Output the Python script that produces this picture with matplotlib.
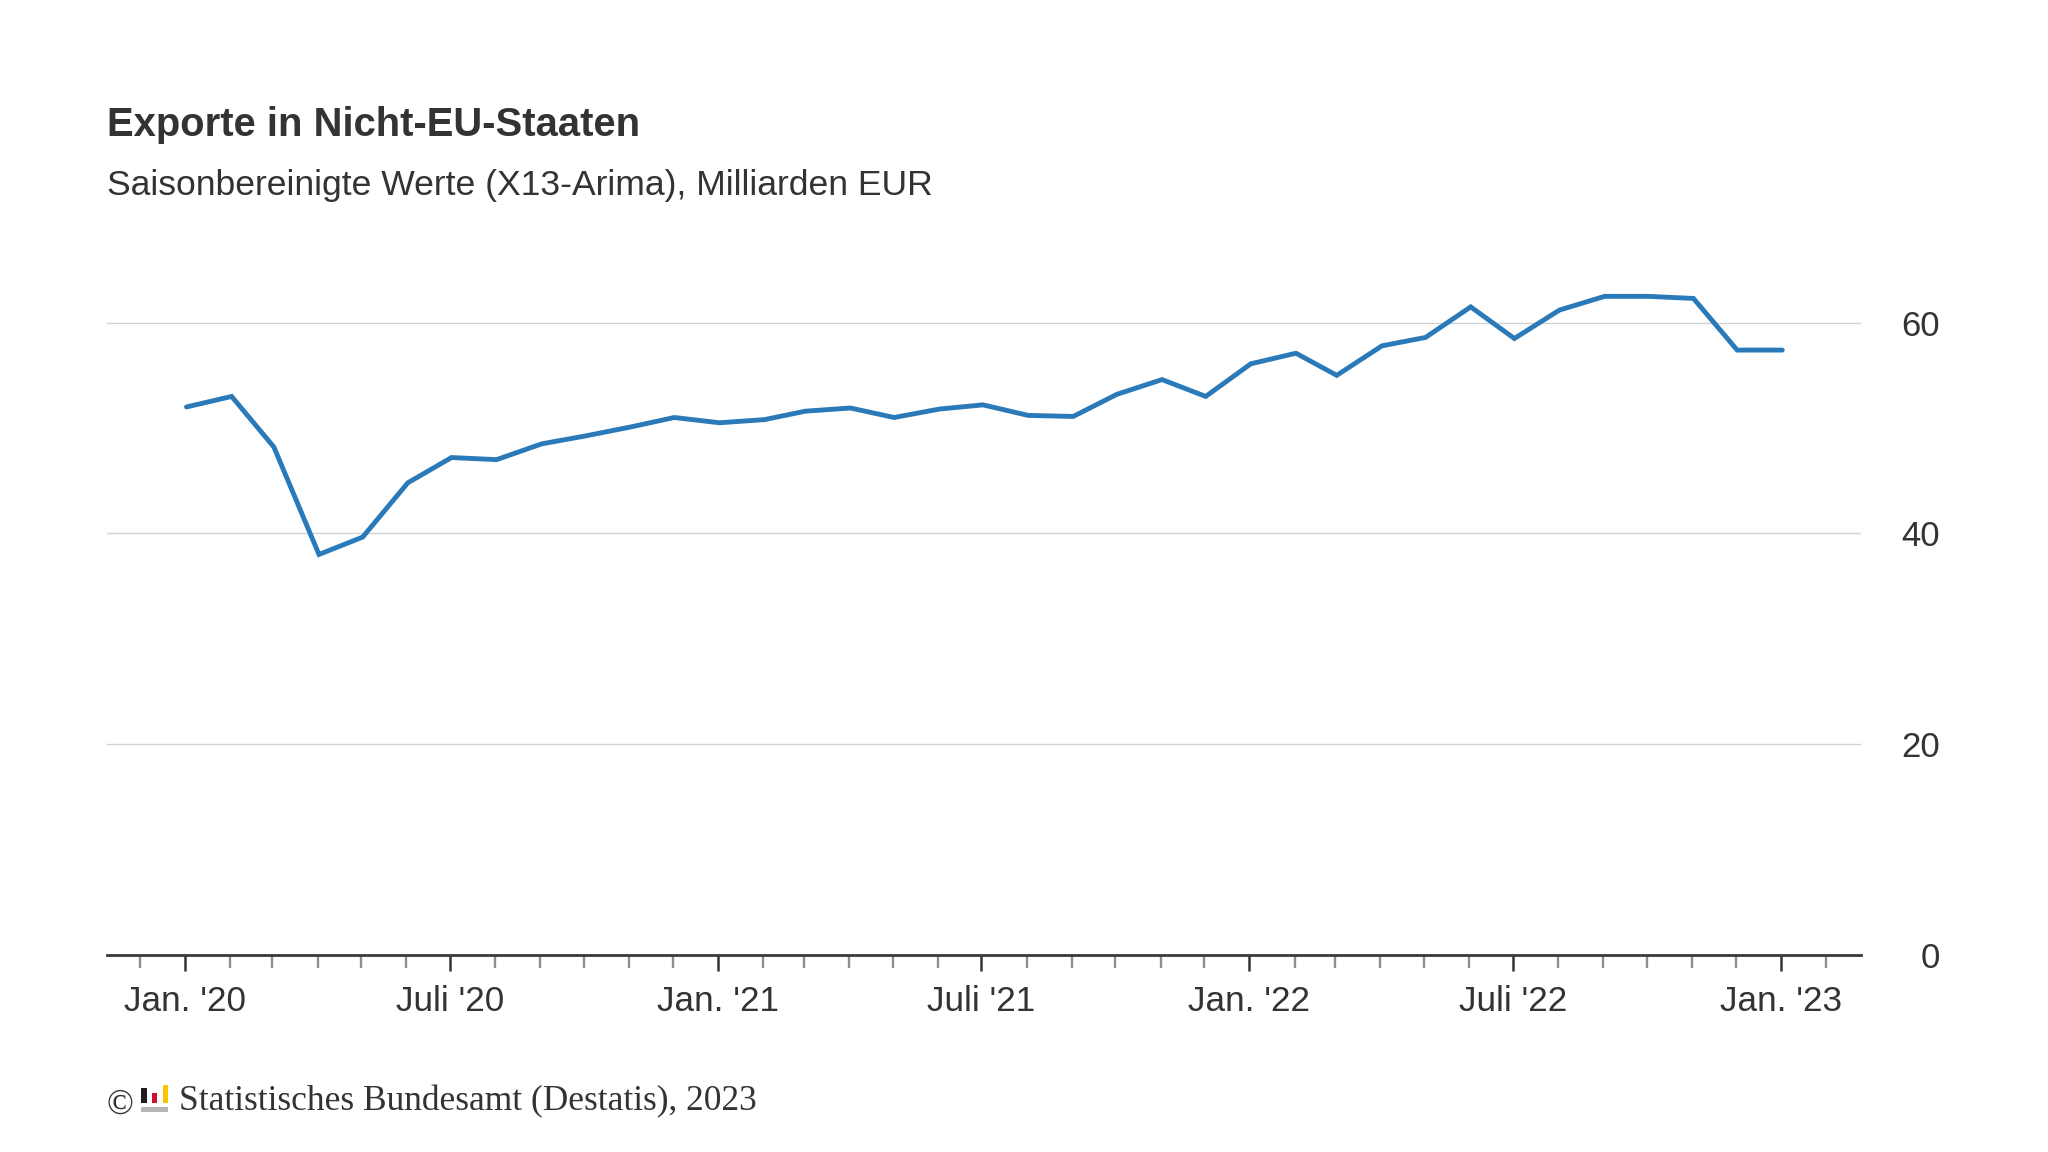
import matplotlib
matplotlib.use("Agg")
import matplotlib.pyplot as plt
import matplotlib.dates as mdates
from matplotlib.patches import Rectangle
import pandas as pd

W, H = 2048, 1152

title = "Exporte in Nicht-EU-Staaten"
subtitle = "Saisonbereinigte Werte (X13-Arima), Milliarden EUR"
footer = "Statistisches Bundesamt (Destatis), 2023"

months = pd.date_range("2020-01-01", "2023-01-01", freq="MS")
values = [52.0, 53.0, 48.2, 38.0, 39.65, 44.8, 47.2, 47.0, 48.5, 49.25, 50.1, 51.0,
          50.5, 50.8, 51.6, 51.9, 51.0, 51.8, 52.2, 51.2, 51.1, 53.2, 54.6, 53.0,
          56.1, 57.1, 55.0, 57.8, 58.6, 61.5, 58.5, 61.2, 62.5, 62.5, 62.3, 57.4, 57.4]
y_ticks = [0, 20, 40, 60]
major_labels = ["Jan. '20", "Juli '20", "Jan. '21", "Juli '21", "Jan. '22", "Juli '22", "Jan. '23"]
major_dates = pd.date_range("2020-01-01", "2023-01-01", freq="6MS")
minor_dates = pd.date_range("2019-12-01", "2023-02-01", freq="MS")

plt.rcParams["font.family"] = ["Liberation Sans", "DejaVu Sans"]
TEXT = "#333333"

fig = plt.figure(figsize=(W / 100, H / 100), dpi=100, facecolor="white")
L, R, B, T = 107, 1861, 954.8, 238.4
ax = fig.add_axes([L / W, 1 - B / H, (R - L) / W, (B - T) / H])

tick_shift = pd.Timedelta(days=1)
ax.plot(months, values, color="#2a7aba", lw=3.5, solid_capstyle="round",
        solid_joinstyle="miter", zorder=3)

# x range from the pixel position of Jan 2020 and Jan 2023
d0, d1 = mdates.date2num(months[0]), mdates.date2num(months[-1])
per_px = (d1 - d0) / (1782.3 - 186.5)
ax.set_xlim(d0 - (186.5 - L) * per_px, d1 + (R - 1782.3) * per_px)
ax.set_ylim(0, 68)

for s in ["top", "left", "right"]:
    ax.spines[s].set_visible(False)
ax.spines["bottom"].set_color("#3a3a3a")
ax.spines["bottom"].set_linewidth(2.0)
ax.spines["bottom"].set_zorder(5)

ax.yaxis.tick_right()
ax.set_yticks(y_ticks)
ax.set_yticklabels([str(v) for v in y_ticks], ha="right", fontsize=25, color=TEXT)
ax.tick_params(axis="y", length=0, pad=57)
ax.grid(axis="y", color="#d2d2d2", lw=1.0)
ax.set_axisbelow(True)

ax.set_xticks(mdates.date2num(major_dates - tick_shift))
ax.set_xticklabels(major_labels, fontsize=25.3, color=TEXT)
ax.set_xticks(mdates.date2num(minor_dates - tick_shift), minor=True)
ax.tick_params(axis="x", which="major", length=11.5, width=1.8, color="#333333", pad=10.2)
ax.tick_params(axis="x", which="minor", length=9.2, width=1.7, color="#8f8f8f")

def ft(x, y, s, **kw):
    return fig.text(x / W, 1 - y / H, s, va="baseline", ha="left", color=TEXT, **kw)

ft(107, 136.5, title, fontsize=28.8, fontweight="bold")
ft(107, 195.5, subtitle, fontsize=25.55)
ft(179, 1110, footer, fontsize=25.5, family="Liberation Serif")
ft(106, 1113.5, "\u00a9", fontsize=25.5, family="Liberation Serif")

def logo(x0, x1, y0, y1, c):
    fig.add_artist(Rectangle((x0 / W, 1 - y1 / H), (x1 - x0) / W, (y1 - y0) / H,
                             transform=fig.transFigure, fc=c, ec="none"))

logo(141, 147, 1088, 1103, "#1e1e1e")
logo(152, 157, 1093, 1103, "#d0102e")
logo(163, 168, 1085, 1103, "#fbc400")
logo(141, 168, 1107, 1112, "#b4b4b4")

fig.savefig("out.png", dpi=100, facecolor="white")
